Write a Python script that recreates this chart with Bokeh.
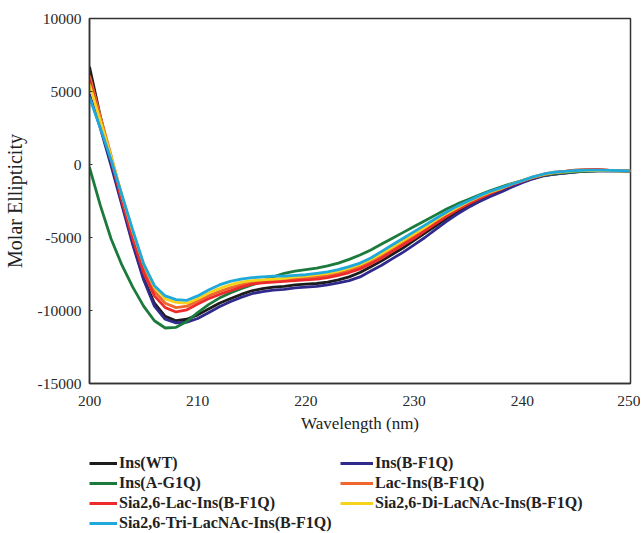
from bokeh.plotting import figure
from bokeh.layouts import column
from bokeh.models import Range1d, Legend, LegendItem, FixedTicker, CustomJSTickFormatter
from bokeh.embed import file_html
from bokeh.resources import INLINE

wavelength = list(range(200, 251))

ins_wt = [6700, 3300, 300, -2600, -5300, -7800, -9500, -10400, -10700, -10600,
          -10300, -9900, -9500, -9200, -8900, -8650, -8500, -8400, -8350, -8250,
          -8200, -8150, -8050, -7900, -7700, -7400, -7000, -6600, -6150, -5700,
          -5200, -4700, -4200, -3700, -3250, -2850, -2450, -2100, -1800, -1500,
          -1200, -950, -750, -650, -580, -500, -450, -430, -420, -440, -450]

ins_bf1q = [4800, 2500, -100, -2800, -5500, -7900, -9700, -10600, -10850, -10800,
            -10550, -10150, -9750, -9400, -9100, -8850, -8700, -8600, -8550, -8450,
            -8400, -8350, -8250, -8100, -7950, -7700, -7300, -6900, -6450, -6000,
            -5500, -5000, -4450, -3900, -3400, -2950, -2550, -2200, -1900, -1550,
            -1250, -980, -770, -660, -590, -510, -460, -440, -430, -440, -450]

ins_ag1q = [-200, -2800, -5100, -6900, -8400, -9700, -10700, -11200, -11150, -10750,
            -10150, -9600, -9150, -8800, -8500, -8250, -8000, -7700, -7450, -7300,
            -7200, -7100, -6950, -6750, -6500, -6200, -5850, -5450, -5050, -4650,
            -4250, -3850, -3450, -3050, -2700, -2400, -2100, -1800, -1550, -1300,
            -1100, -900, -720, -620, -560, -490, -450, -420, -410, -430, -440]

lac_ins = [6100, 3300, 600, -2200, -4800, -7100, -8700, -9500, -9800, -9700,
           -9350, -9000, -8700, -8450, -8250, -8050, -7950, -7900, -7850, -7800,
           -7750, -7700, -7600, -7450, -7250, -7000, -6650, -6250, -5800, -5350,
           -4900, -4450, -3950, -3450, -3000, -2600, -2250, -1950, -1650, -1350,
           -1100, -850, -650, -520, -450, -370, -340, -330, -380, -410, -440]

sia_lac = [5800, 3000, 300, -2500, -5100, -7400, -9000, -9800, -10100, -9950,
           -9550, -9200, -8900, -8650, -8400, -8200, -8100, -8050, -8000, -7950,
           -7900, -7850, -7750, -7600, -7400, -7150, -6800, -6400, -5950, -5500,
           -5050, -4550, -4050, -3550, -3100, -2700, -2350, -2000, -1700, -1400,
           -1150, -900, -700, -560, -480, -400, -380, -360, -400, -420, -440]

sia_di = [5500, 3000, 500, -2100, -4600, -6800, -8400, -9200, -9450, -9500,
          -9200, -8800, -8500, -8250, -8050, -7950, -7900, -7850, -7800, -7700,
          -7650, -7550, -7450, -7300, -7100, -6850, -6500, -6100, -5650, -5200,
          -4750, -4300, -3800, -3350, -2950, -2550, -2200, -1900, -1650, -1350,
          -1100, -870, -680, -560, -500, -440, -420, -400, -410, -430, -440]

sia_tri = [4600, 2500, 300, -2100, -4500, -6800, -8300, -9000, -9250, -9300,
           -9000, -8600, -8250, -8000, -7850, -7750, -7700, -7650, -7650, -7600,
           -7550, -7450, -7350, -7200, -7000, -6750, -6400, -5950, -5500, -5050,
           -4600, -4150, -3700, -3250, -2850, -2500, -2150, -1850, -1600, -1350,
           -1100, -850, -650, -530, -470, -410, -390, -380, -400, -420, -440]

labels = ["Ins(WT)", "Ins(B-F1Q)", "Ins(A-G1Q)", "Lac-Ins(B-F1Q)",
          "Sia2,6-Lac-Ins(B-F1Q)", "Sia2,6-Di-LacNAc-Ins(B-F1Q)",
          "Sia2,6-Tri-LacNAc-Ins(B-F1Q)"]
series = [ins_wt, ins_bf1q, ins_ag1q, lac_ins, sia_lac, sia_di, sia_tri]
colors = ["#1c1c1c", "#2f2a8c", "#1b7a3c", "#f0672e", "#ee2b2b", "#f5d31c", "#1ea9da"]

y_ticks = [-15000, -10000, -5000, 0, 5000, 10000]
x_ticks = [200, 210, 220, 230, 240, 250]

FONT = "Liberation Serif"

p = figure(width=640, height=440, output_backend="svg", toolbar_location=None,
           x_range=Range1d(200, 250), y_range=Range1d(-15000, 10000),
           min_border_left=89, min_border_right=10, min_border_top=18,
           min_border_bottom=57)
p.grid.visible = False
p.outline_line_color = "#333333"
p.outline_line_width = 1.5
p.background_fill_color = "white"
p.border_fill_color = "white"

for ys, c in zip(series, colors):
    p.line(wavelength, ys, line_color=c, line_width=2.8)

fmt = CustomJSTickFormatter(code="return tick.toString();")
for ax in (p.xaxis[0], p.yaxis[0]):
    ax.formatter = fmt
    ax.axis_line_color = "#333333"
    ax.axis_line_width = 1.5
    ax.major_label_text_font = FONT
    ax.major_label_text_font_size = "15.5px"
    ax.major_label_text_color = "#2a2a2a"
    ax.axis_label_text_font = FONT
    ax.axis_label_text_font_style = "normal"
    ax.axis_label_text_color = "#222222"
    ax.minor_tick_line_color = None
    ax.major_tick_out = 0
    ax.major_tick_in = 3
    ax.major_tick_line_color = "#333333"

p.xaxis[0].ticker = FixedTicker(ticks=x_ticks)
p.yaxis[0].ticker = FixedTicker(ticks=y_ticks)
p.xaxis[0].axis_label = "Wavelength (nm)"
p.yaxis[0].axis_label = "Molar Ellipticity"
p.xaxis[0].axis_label_text_font_size = "17px"
p.yaxis[0].axis_label_text_font_size = "20px"
p.xaxis[0].major_label_standoff = 12
p.xaxis[0].axis_label_standoff = 5
p.yaxis[0].major_label_standoff = 8
p.yaxis[0].axis_label_standoff = 9
p.xaxis[0].major_tick_in = 0

# legend panel (its frame is aligned with the main frame by the column layout)
p2 = figure(width=640, height=92, output_backend="svg", toolbar_location=None,
            x_range=Range1d(0, 1), y_range=Range1d(0, 1),
            x_axis_location=None, y_axis_location=None,
            min_border_left=0, min_border_right=0,
            min_border_top=0, min_border_bottom=0)
p2.grid.visible = False
p2.outline_line_color = None
p2.background_fill_color = "white"
p2.border_fill_color = "white"

# same data, out of this panel's view: only used for the legend swatches
leg_renderers = [p2.line(wavelength, ys, line_color=c, line_width=3)
                 for ys, c in zip(series, colors)]


def make_legend(idx, loc, gw):
    items = [LegendItem(label=labels[i], renderers=[leg_renderers[i]]) for i in idx]
    lg = Legend(items=items, location=loc, orientation="vertical")
    lg.label_text_font = FONT
    lg.label_text_font_style = "bold"
    lg.label_text_font_size = "16px"
    lg.label_text_color = "#222222"
    lg.glyph_width = gw
    lg.glyph_height = 20
    lg.label_height = 20
    lg.label_standoff = 2
    lg.spacing = 0
    lg.padding = 0
    lg.margin = 0
    lg.border_line_color = None
    lg.background_fill_alpha = 0
    return lg


p2.add_layout(make_legend([0, 2, 4, 6], (0, -1), 28))
p2.add_layout(make_legend([1, 3, 5], (251, 19), 33))

layout = column(p, p2, spacing=0)
open("out.html", "w").write(file_html(layout, INLINE))
